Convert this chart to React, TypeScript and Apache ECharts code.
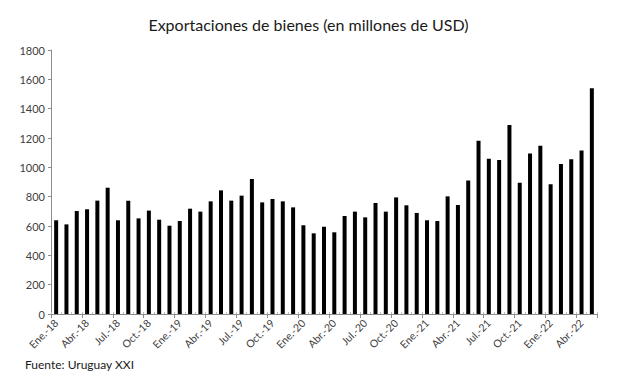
import React, { useEffect, useRef } from "react";
import * as echarts from "echarts";

const months = ["Ene.", "Feb.", "Mar.", "Abr.", "May.", "Jun.", "Jul.", "Ago.", "Sep.", "Oct.", "Nov.", "Dic."];
const years = ["18", "19", "20", "21", "22"];
const categories: string[] = [];
for (const y of years) for (const m of months) categories.push(`${m}-${y}`);
const cats = categories.slice(0, 53);

const exportsValues = [
  639, 611, 702, 714, 773, 861, 639, 773, 652, 705, 643, 602,
  634, 718, 698, 768, 843, 773, 807, 920, 761, 784, 768, 727,
  605, 550, 595, 557, 668, 698, 659, 757, 698, 795, 741, 689,
  639, 634, 802, 743, 911, 1182, 1059, 1050, 1289, 895, 1095, 1148,
  884, 1023, 1055, 1114, 1539,
];

const titleText = "Exportaciones de bienes (en millones de USD)";
const sourceText = "Fuente: Uruguay XXI";
const FONT = "Lato, 'Open Sans', sans-serif";

export default function App() {
  const ref = useRef<HTMLDivElement>(null);
  useEffect(() => {
    if (!ref.current) return;
    const chart = echarts.init(ref.current, undefined, { renderer: "svg" });
    chart.setOption({
      animation: false,
      backgroundColor: "#ffffff",
      textStyle: { fontFamily: FONT },
      title: {
        text: titleText,
        left: "center",
        top: 11,
        textStyle: { fontFamily: FONT, fontSize: 16, fontWeight: "normal", color: "#1a1a1a" },
      },
      graphic: [
        {
          type: "text",
          left: 25,
          top: 358,
          style: { text: sourceText, fontFamily: FONT, fontSize: 12, fill: "#1a1a1a" },
        },
      ],
      grid: { left: 51, right: 20, top: 50, bottom: 63, containLabel: false },
      xAxis: [
        {
          type: "category",
          data: cats,
          boundaryGap: true,
          axisLine: { show: true, lineStyle: { color: "#8c8c8c", width: 1 } },
          axisTick: { show: true, interval: 2, length: 4, lineStyle: { color: "#8c8c8c" } },
          axisLabel: {
            interval: 2,
            rotate: 45,
            fontSize: 10.5,
            color: "#404040",
            fontFamily: FONT,
            margin: 7,
          },
        },
        {
          type: "category",
          data: cats,
          position: "bottom",
          boundaryGap: true,
          axisLine: { show: false },
          axisTick: { show: true, interval: 0, inside: true, length: 2, lineStyle: { color: "#bdbdbd" } },
          axisLabel: { show: false },
        },
      ],
      yAxis: {
        type: "value",
        min: 0,
        max: 1800,
        interval: 200,
        splitLine: { show: false },
        axisLine: { show: true, lineStyle: { color: "#8c8c8c" } },
        axisTick: { show: true, length: 3, lineStyle: { color: "#8c8c8c" } },
        axisLabel: {
          fontSize: 11,
          color: "#404040",
          fontFamily: FONT,
          margin: 6,
          formatter: (v: number) => String(v),
        },
      },
      series: [
        {
          type: "bar",
          data: exportsValues,
          barWidth: 4,
          itemStyle: { color: "#000000" },
        },
      ],
    });
    return () => chart.dispose();
  }, []);
  return (
    <div
      ref={ref}
      style={{ position: "absolute", left: 0, top: 0, width: 617, height: 377 }}
    />
  );
}
